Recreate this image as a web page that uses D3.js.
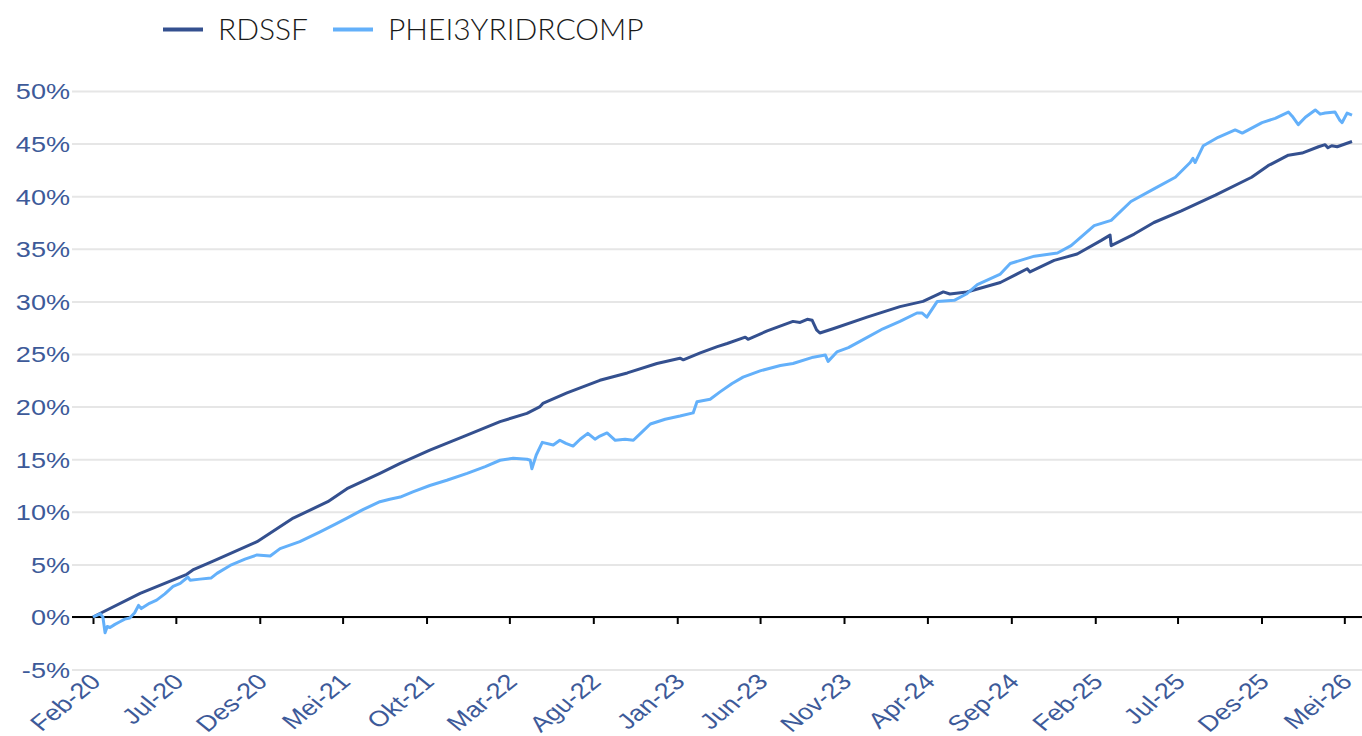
<!DOCTYPE html>
<html>
<head>
<meta charset="utf-8">
<script src="https://cdn.jsdelivr.net/npm/d3@7"></script>
<style>
  html, body { margin: 0; padding: 0; background: #fff; }
  svg { display: block; }
</style>
</head>
<body>
<svg id="svg" width="1362" height="736"></svg>
<script>
// series as [date, cumulative return %]
const rdssf = [
  ["2020-02-01", 0.0], ["2020-04-27", 2.25], ["2020-07-21", 4.06], ["2020-08-01", 4.47],
  ["2020-09-07", 5.3], ["2020-11-26", 7.16], ["2021-01-31", 9.4], ["2021-04-04", 10.96],
  ["2021-05-09", 12.2], ["2021-07-08", 13.66], ["2021-08-14", 14.6], ["2021-10-07", 15.87],
  ["2021-12-07", 17.14], ["2022-02-12", 18.57], ["2022-04-02", 19.36], ["2022-04-26", 20.0],
  ["2022-05-01", 20.3], ["2022-06-14", 21.3], ["2022-08-13", 22.5], ["2022-10-02", 23.2],
  ["2022-11-25", 24.1], ["2023-01-06", 24.6], ["2023-01-12", 24.45], ["2023-02-12", 25.1],
  ["2023-03-15", 25.7], ["2023-04-02", 26.0], ["2023-05-05", 26.6], ["2023-05-10", 26.4],
  ["2023-06-14", 27.2], ["2023-07-31", 28.1], ["2023-08-13", 28.0], ["2023-08-26", 28.3],
  ["2023-09-04", 28.2], ["2023-09-12", 27.3], ["2023-09-18", 27.0], ["2023-10-12", 27.4],
  ["2023-12-13", 28.5], ["2024-02-11", 29.5], ["2024-03-24", 30.0], ["2024-04-30", 30.9],
  ["2024-05-12", 30.7], ["2024-06-12", 30.9], ["2024-08-12", 31.8], ["2024-09-30", 33.1],
  ["2024-10-05", 32.8], ["2024-11-18", 33.9], ["2024-12-30", 34.5], ["2025-02-12", 35.8],
  ["2025-02-28", 36.3], ["2025-03-02", 35.3], ["2025-04-13", 36.4], ["2025-05-19", 37.5],
  ["2025-07-08", 38.6], ["2025-09-08", 40.1], ["2025-11-13", 41.8], ["2025-12-13", 42.9],
  ["2026-01-19", 43.9], ["2026-02-13", 44.1], ["2026-03-15", 44.7], ["2026-03-27", 44.9],
  ["2026-04-01", 44.6], ["2026-04-08", 44.8], ["2026-04-18", 44.7], ["2026-05-15", 45.2]
];

const phei = [
  ["2020-02-01", 0.0], ["2020-02-14", 0.3], ["2020-02-19", 0.0], ["2020-02-23", -1.5],
  ["2020-02-27", -0.9], ["2020-03-03", -1.0], ["2020-03-12", -0.7], ["2020-03-21", -0.45],
  ["2020-03-30", -0.2], ["2020-04-08", -0.1], ["2020-04-17", 0.4], ["2020-04-24", 1.1],
  ["2020-04-29", 0.8], ["2020-05-14", 1.3], ["2020-05-27", 1.6], ["2020-06-11", 2.2],
  ["2020-06-26", 2.9], ["2020-07-09", 3.2], ["2020-07-23", 3.8], ["2020-07-27", 3.5],
  ["2020-08-14", 3.6], ["2020-09-03", 3.7], ["2020-09-14", 4.15], ["2020-10-08", 4.9],
  ["2020-11-04", 5.5], ["2020-11-26", 5.9], ["2020-12-20", 5.8], ["2021-01-07", 6.5],
  ["2021-02-12", 7.16], ["2021-03-21", 8.1], ["2021-04-17", 8.8], ["2021-05-09", 9.4],
  ["2021-06-07", 10.2], ["2021-07-08", 10.96], ["2021-07-26", 11.2], ["2021-08-14", 11.4],
  ["2021-09-06", 11.9], ["2021-10-07", 12.5], ["2021-11-07", 13.0], ["2021-12-14", 13.66],
  ["2022-01-16", 14.3], ["2022-02-12", 14.9], ["2022-03-08", 15.1], ["2022-04-02", 15.0],
  ["2022-04-08", 14.9], ["2022-04-11", 14.1], ["2022-04-19", 15.4], ["2022-04-30", 16.6],
  ["2022-05-20", 16.35], ["2022-06-01", 16.8], ["2022-06-12", 16.5], ["2022-06-25", 16.25],
  ["2022-07-08", 16.9], ["2022-07-22", 17.46], ["2022-08-04", 16.9], ["2022-08-13", 17.2],
  ["2022-08-26", 17.5], ["2022-09-10", 16.8], ["2022-09-28", 16.9], ["2022-10-13", 16.8],
  ["2022-10-29", 17.6], ["2022-11-13", 18.35], ["2022-12-10", 18.8], ["2023-01-06", 19.1],
  ["2023-01-30", 19.4], ["2023-02-06", 20.47], ["2023-03-02", 20.7], ["2023-03-20", 21.4],
  ["2023-04-11", 22.2], ["2023-05-01", 22.8], ["2023-06-01", 23.4], ["2023-07-08", 23.9],
  ["2023-07-31", 24.1], ["2023-09-06", 24.7], ["2023-09-28", 24.9], ["2023-10-03", 24.3],
  ["2023-10-19", 25.2], ["2023-11-09", 25.6], ["2023-11-30", 26.2], ["2024-01-11", 27.4],
  ["2024-02-11", 28.1], ["2024-03-13", 28.9], ["2024-03-22", 28.9], ["2024-03-31", 28.5],
  ["2024-04-19", 30.0], ["2024-05-20", 30.1], ["2024-06-11", 30.7], ["2024-07-01", 31.6],
  ["2024-08-12", 32.6], ["2024-08-30", 33.6], ["2024-10-13", 34.3], ["2024-11-24", 34.6],
  ["2024-12-19", 35.3], ["2025-01-30", 37.2], ["2025-03-02", 37.7], ["2025-04-07", 39.5],
  ["2025-05-19", 40.7], ["2025-06-27", 41.8], ["2025-07-24", 43.2], ["2025-07-29", 43.6],
  ["2025-08-02", 43.2], ["2025-08-17", 44.8], ["2025-09-13", 45.6], ["2025-10-14", 46.3],
  ["2025-10-27", 46.0], ["2025-12-02", 47.0], ["2025-12-26", 47.4], ["2026-01-19", 48.0],
  ["2026-01-26", 47.6], ["2026-02-06", 46.8], ["2026-02-19", 47.5], ["2026-03-09", 48.2],
  ["2026-03-18", 47.8], ["2026-03-27", 47.9], ["2026-04-14", 48.0], ["2026-04-23", 47.2],
  ["2026-04-27", 47.0], ["2026-05-06", 47.9], ["2026-05-15", 47.7]
];

const seriesNames = ["RDSSF", "PHEI3YRIDRCOMP"];
const seriesColors = ["#34508f", "#63b0fa"];

const yTicks = [-5, 0, 5, 10, 15, 20, 25, 30, 35, 40, 45, 50];
const xTickMonths = ["2020-02", "2020-07", "2020-12", "2021-05", "2021-10", "2022-03",
  "2022-08", "2023-01", "2023-06", "2023-11", "2024-04", "2024-09", "2025-02",
  "2025-07", "2025-12", "2026-05"];
const xTickLabels = ["Feb-20", "Jul-20", "Des-20", "Mei-21", "Okt-21", "Mar-22",
  "Agu-22", "Jan-23", "Jun-23", "Nov-23", "Apr-24", "Sep-24", "Feb-25",
  "Jul-25", "Des-25", "Mei-26"];

const parseDay = d3.timeParse("%Y-%m-%d");
const parseMonth = d3.timeParse("%Y-%m");

const svg = d3.select("#svg");
const labelColor = "#3d5a99";
const fontFam = "'Liberation Sans', Arial, sans-serif";
const stretch = 1.23; // labels look horizontally widened in the original

const x = d3.scaleTime()
  .domain([parseDay("2020-02-01"), parseDay("2026-05-15")])
  .range([93, 1352]);

const y = d3.scaleLinear()
  .domain([-5, 50])
  .range([669.6, 91]);

// grid + y labels
const yAxis = svg.append("g")
  .attr("transform", "translate(72,0)")
  .call(d3.axisLeft(y).tickValues(yTicks).tickSize(-1290).tickFormat(d => d + "%"));
yAxis.select(".domain").remove();
yAxis.selectAll(".tick line").attr("stroke", "#e6e6e6").attr("stroke-width", 2);
yAxis.selectAll(".tick text")
  .attr("x", 0)
  .attr("dy", "0.36em")
  .attr("transform", `translate(-2,0) scale(${stretch},1)`)
  .attr("fill", labelColor)
  .style("font-family", fontFam)
  .style("font-size", "22px");

// x axis at zero
const tickDates = xTickMonths.map(parseMonth);
const xAxis = svg.append("g")
  .attr("transform", `translate(0,${y(0)})`)
  .call(d3.axisBottom(x).tickValues(tickDates).tickSize(7).tickFormat((d, i) => xTickLabels[i]));
xAxis.select(".domain")
  .attr("d", `M72,0H1362`)
  .attr("stroke", "#000")
  .attr("stroke-width", 2);
xAxis.selectAll(".tick line").attr("stroke", "#000").attr("stroke-width", 2);
xAxis.selectAll(".tick text")
  .attr("fill", labelColor)
  .style("font-family", fontFam)
  .style("font-size", "22px")
  .attr("text-anchor", "end")
  .attr("y", 0)
  .attr("dy", "0.35em")
  .attr("transform", `translate(2,${y(-5) - y(0) + 8}) scale(${stretch},1) rotate(-45)`);

// lines
const line = d3.line()
  .x(d => x(parseDay(d[0])))
  .y(d => y(d[1]));

[rdssf, phei].forEach((s, i) => {
  svg.append("path")
    .datum(s)
    .attr("fill", "none")
    .attr("stroke", seriesColors[i])
    .attr("stroke-width", 3)
    .attr("stroke-linejoin", "round")
    .attr("d", line);
});

// legend
const legendX = [163, 333];
const legend = svg.append("g");
seriesNames.forEach((name, i) => {
  legend.append("line")
    .attr("x1", legendX[i]).attr("x2", legendX[i] + 40)
    .attr("y1", 29.5).attr("y2", 29.5)
    .attr("stroke", seriesColors[i])
    .attr("stroke-width", 4);
  legend.append("text")
    .attr("x", legendX[i] + 55)
    .attr("y", 39.5)
    .attr("fill", "#1a1a1a")
    .style("font-family", "Lato, 'Open Sans', sans-serif")
    .style("font-weight", 300)
    .style("font-size", "30px")
    .text(name);
});
</script>
</body>
</html>
